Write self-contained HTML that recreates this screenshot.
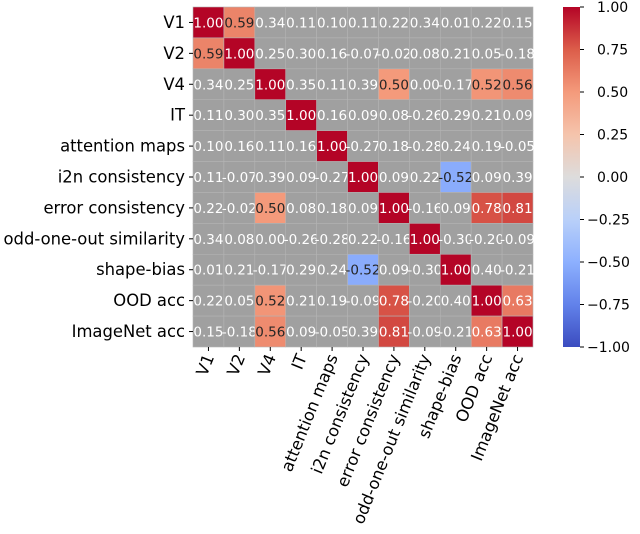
<!DOCTYPE html>
<html><head><meta charset="utf-8">
<style>
html,body{margin:0;padding:0;background:#fff;}
svg{display:block;font-family:"DejaVu Sans","Liberation Sans",sans-serif;}
</style></head>
<body>
<svg id="chart" width="640" height="534" viewBox="0 0 640 534">
<defs>
<linearGradient id="cbg" x1="0" y1="1" x2="0" y2="0">
<stop offset="0" stop-color="#3b4cc0"/><stop offset="0.125" stop-color="#6282ea"/>
<stop offset="0.25" stop-color="#8db0fe"/><stop offset="0.375" stop-color="#b9d0f9"/>
<stop offset="0.5" stop-color="#dddcdc"/><stop offset="0.625" stop-color="#f5c4ac"/>
<stop offset="0.75" stop-color="#f49a7b"/><stop offset="0.875" stop-color="#dc5d4a"/>
<stop offset="1" stop-color="#b40426"/>
</linearGradient>
</defs>
<g id="cells"></g>
<g id="labels"></g>
<rect x="563" y="7" width="17" height="340" fill="url(#cbg)"/>
<g id="cbticks"></g>
</svg>
<script>
const labels=["V1","V2","V4","IT","attention maps","i2n consistency","error consistency","odd-one-out similarity","shape-bias","OOD acc","ImageNet acc"];
const row0=[1.00,0.59,0.34,0.11,0.10,0.11,0.22,0.34,0.01,0.22,0.15];
const row1=[0.59,1.00,0.25,0.30,0.16,-0.07,-0.02,0.08,0.21,0.05,-0.18];
const row2=[0.34,0.25,1.00,0.35,0.11,0.39,0.50,0.00,-0.17,0.52,0.56];
const row3=[0.11,0.30,0.35,1.00,0.16,0.09,0.08,-0.26,0.29,0.21,0.09];
const row4=[0.10,0.16,0.11,0.16,1.00,-0.27,0.18,-0.28,0.24,0.19,-0.05];
const row5=[0.11,-0.07,0.39,0.09,-0.27,1.00,0.09,0.22,-0.52,0.09,0.39];
const row6=[0.22,-0.02,0.50,0.08,0.18,0.09,1.00,-0.16,0.09,0.78,0.81];
const row7=[0.34,0.08,0.00,-0.26,-0.28,0.22,-0.16,1.00,-0.30,-0.20,-0.09];
const row8=[0.01,0.21,-0.17,0.29,0.24,-0.52,0.09,-0.30,1.00,0.40,-0.21];
const row9=[0.22,0.05,0.52,0.21,0.19,-0.09,0.78,-0.20,0.40,1.00,0.63];
const row10=[0.15,-0.18,0.56,0.09,-0.05,0.39,0.81,-0.09,-0.21,0.63,1.00];
const matrix=[row0,row1,row2,row3,row4,row5,row6,row7,row8,row9,row10];
const cbTicks=[1.00,0.75,0.50,0.25,0.00,-0.25,-0.50,-0.75,-1.00];

const X0=193,Y0=7,CW=340/11,CH=340/11;
const xPos=i=>X0+i*CW, yPos=i=>Y0+i*CH;
const cbY=v=>7+(1-v)/2*340;
const stops=[[-1,[59,76,192]],[-0.75,[98,130,234]],[-0.5,[141,176,254]],[-0.25,[185,208,249]],[0,[221,220,220]],[0.25,[245,196,172]],[0.5,[244,154,123]],[0.75,[220,93,74]],[1,[180,4,38]]];
function cmap(v){for(let i=0;i<stops.length-1;i++){const a=stops[i],b=stops[i+1];if(v<=b[0]){const t=(v-a[0])/(b[0]-a[0]);const c=a[1].map((x,k)=>Math.round(x+(b[1][k]-x)*t));return `rgb(${c.join(',')})`;}}return 'rgb(180,4,38)';}
const NS="http://www.w3.org/2000/svg";
const cells=document.getElementById('cells'),lab=document.getElementById('labels'),cbt=document.getElementById('cbticks');
const bg=document.createElementNS(NS,'rect');
bg.setAttribute('x',X0);bg.setAttribute('y',Y0);bg.setAttribute('width',340);bg.setAttribute('height',340);bg.setAttribute('fill','#a0a0a0');


cells.appendChild(bg);
matrix.forEach((row,r)=>row.forEach((v,c)=>{
  const rc=document.createElementNS(NS,'rect');
  rc.setAttribute('x',xPos(c));rc.setAttribute('y',yPos(r));rc.setAttribute('width',CW);rc.setAttribute('height',CH);
  rc.setAttribute('fill',Math.abs(v)>=0.5?cmap(v):'#a0a0a0');
  rc.setAttribute('stroke','#b4b4b4');rc.setAttribute('stroke-width','0.6');
  
  
  cells.appendChild(rc);
  const t=document.createElementNS(NS,'text');
  t.setAttribute('x',xPos(c)+CW/2);t.setAttribute('y',yPos(r)+CH/2+5);
  t.setAttribute('text-anchor','middle');t.setAttribute('font-size','13.5');
  t.setAttribute('fill',(Math.abs(v)>=0.5&&Math.abs(v)<0.6)?'#262626':'#ffffff');
  t.textContent=v.toFixed(2);
  
  
  cells.appendChild(t);
}));
labels.forEach((l,i)=>{
  const y=yPos(i)+CH/2;
  const tk=document.createElementNS(NS,'line');
  tk.setAttribute('x1',X0-4);tk.setAttribute('x2',X0);tk.setAttribute('y1',y);tk.setAttribute('y2',y);tk.setAttribute('stroke','#000');
  lab.appendChild(tk);
  const t=document.createElementNS(NS,'text');
  t.setAttribute('x',X0-8);t.setAttribute('y',y+5.5);t.setAttribute('text-anchor','end');t.setAttribute('font-size','16.4');
  t.textContent=l;
  
  
  lab.appendChild(t);
  const x=xPos(i)+CW/2;
  const tk2=document.createElementNS(NS,'line');
  tk2.setAttribute('x1',x);tk2.setAttribute('x2',x);tk2.setAttribute('y1',347);tk2.setAttribute('y2',351);tk2.setAttribute('stroke','#000');
  lab.appendChild(tk2);
  const t2=document.createElementNS(NS,'text');
  t2.setAttribute('transform',`translate(${x+6},${357}) rotate(-68)`);
  t2.setAttribute('text-anchor','end');t2.setAttribute('font-size','16.4');
  t2.textContent=l;
  
  
  lab.appendChild(t2);
});
cbTicks.forEach(v=>{
  const y=cbY(v);
  const tk=document.createElementNS(NS,'line');
  tk.setAttribute('x1',580);tk.setAttribute('x2',584);tk.setAttribute('y1',y);tk.setAttribute('y2',y);tk.setAttribute('stroke','#000');
  cbt.appendChild(tk);
  const t=document.createElementNS(NS,'text');
  t.setAttribute('x',v<0?587:597);t.setAttribute('y',y+5);t.setAttribute('font-size','14');
  t.textContent=(v<0?'\u2212'+Math.abs(v).toFixed(2):v.toFixed(2));
  
  
  cbt.appendChild(t);
});
</script>
</body></html>
